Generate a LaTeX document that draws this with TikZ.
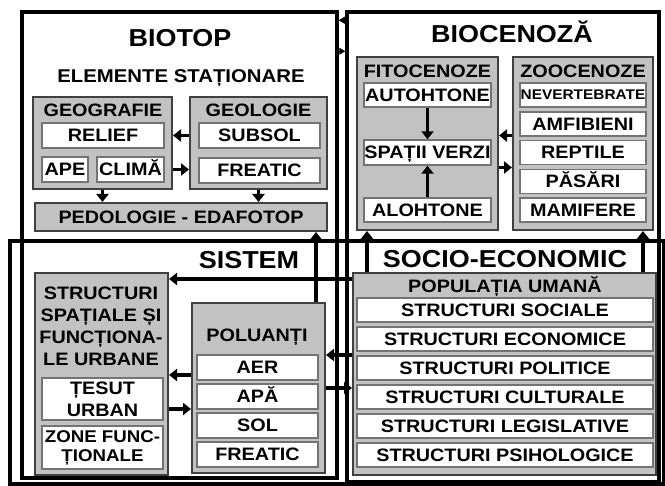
\documentclass[tikz,border=0pt]{standalone}
\usepackage{fontspec}
\setmainfont{Liberation Sans}[FakeStretch=1.1]
\usetikzlibrary{arrows.meta}
\newcommand\cellfont{\bfseries\fontsize{18}{22}\selectfont}

\begin{document}
\begin{tikzpicture}[x=1pt, y=-1pt,
  frame/.style={rectangle, draw=black, line width=3.5pt, inner sep=0pt},
  grp/.style={rectangle, draw=black!75, line width=2pt, fill=black!24, inner sep=0pt},
  lbl/.style={inner sep=0pt, font=\cellfont, align=center},
  hd/.style={lbl, text height=12.9pt, text depth=0pt},
  cell/.style={lbl, rectangle, draw=black!55, line width=1.4pt, fill=white},
  one/.style={cell, text height=12.9pt, text depth=0pt},
  ttl/.style={inner sep=0pt, font=\bfseries\fontsize{24.5}{29}\selectfont, text height=17.5pt, text depth=0pt},
  arr/.style={line width=3.6pt, -{Triangle[length=8pt,width=12pt]}},
  tip/.style={line width=1pt, -{Triangle[length=6pt,width=7pt]}}]

\useasboundingbox (0,0) rectangle (665,486);

\node(biotop) [frame, minimum width=315pt, minimum height=466pt] at (179.5,245) {};
\node(biocenoza) [frame, minimum width=312pt, minimum height=470pt] at (503,247) {};
\node(sistem) [frame, minimum width=654pt, minimum height=243pt] at (337,362.5) {};

\node(biotoptitle) [ttl] at (180,37.5) {BIOTOP};
\node(stationare) [hd, font=\bfseries\fontsize{18.5}{22}\selectfont] at (181,76.5) {ELEMENTE STAȚIONARE};
\node(biocenozatitle) [ttl] at (512,33.5) {BIOCENOZĂ};
\node(sistemtitle) [ttl] at (249,260) {SISTEM};
\node(sociotitle) [ttl] at (505,258.5) {SOCIO-ECONOMIC};

\node(geografie) [grp, minimum width=139pt, minimum height=92pt] at (102.5,143) {};
\node(geografietitle) [hd] at (103,110) {GEOGRAFIE};
\node(relief) [one, minimum width=122pt, minimum height=25pt] at (103,135.5) {RELIEF};
\node(ape) [one, minimum width=46pt, minimum height=25pt] at (65,169.5) {APE};
\node(clima) [one, minimum width=67pt, minimum height=25pt] at (130.5,169.5) {CLIMĂ};
\node(geologie) [grp, minimum width=137pt, minimum height=92pt] at (258.5,143) {};
\node(geologietitle) [hd] at (258.5,110) {GEOLOGIE};
\node(subsol) [one, minimum width=121pt, minimum height=25pt] at (259.5,135.5) {SUBSOL};
\node(freatic) [one, minimum width=121pt, minimum height=25pt] at (259.5,170.5) {FREATIC};
\node(pedologie) [grp, minimum width=292pt, minimum height=28pt, text height=12.9pt, text depth=0pt, font=\cellfont] at (181,217) {PEDOLOGIE - EDAFOTOP};

\node(fitocenoze) [grp, minimum width=141pt, minimum height=173pt] at (427.5,143.5) {};
\node(fitotitle) [hd] at (427.5,71.5) {FITOCENOZE};
\node(autohtone) [one, minimum width=127pt, minimum height=24pt] at (427.5,95) {AUTOHTONE};
\node(spatii) [one, minimum width=127pt, minimum height=25pt] at (427.5,152.5) {SPAȚII VERZI};
\node(alohtone) [one, minimum width=127pt, minimum height=24pt] at (427.5,210) {ALOHTONE};
\node(zoocenoze) [grp, minimum width=140pt, minimum height=173pt] at (583,143.5) {};
\node(zootitle) [hd] at (583,71.5) {ZOOCENOZE};
\node(nevertebrate) [one, minimum width=126pt, minimum height=24pt, font=\bfseries\fontsize{14}{17}\selectfont, text height=10pt] at (583,95) {NEVERTEBRATE};
\node(amfibieni) [one, minimum width=126pt, minimum height=24pt] at (583,124) {AMFIBIENI};
\node(reptile) [one, minimum width=126pt, minimum height=24pt] at (583,152.5) {REPTILE};
\node(pasari) [one, minimum width=126pt, minimum height=24pt] at (583,181.5) {PĂSĂRI};
\node(mamifere) [one, minimum width=126pt, minimum height=24pt] at (583,210) {MAMIFERE};

\node(structuri) [grp, minimum width=133pt, minimum height=202pt] at (101.5,374) {};
\node(structuritext) [lbl] at (101,326) {STRUCTURI\\SPAȚIALE ȘI\\FUNCȚIONA-\\LE URBANE};
\node(tesut) [cell, minimum width=121pt, minimum height=42pt] at (102.5,399) {ȚESUT\\URBAN};
\node(zone) [cell, minimum width=121pt, minimum height=43pt, font=\bfseries\fontsize{17}{19}\selectfont] at (102.5,447.5) {ZONE FUNC-\\ȚIONALE};
\node(poluanti) [grp, minimum width=133pt, minimum height=170pt] at (258.5,388) {};
\node(poluantititle) [hd] at (257,335) {POLUANȚI};
\node(aer) [one, minimum width=121pt, minimum height=25pt] at (257.5,367.5) {AER};
\node(apa) [one, minimum width=121pt, minimum height=25pt] at (257.5,396.5) {APĂ};
\node(sol) [one, minimum width=121pt, minimum height=25pt] at (257.5,425.5) {SOL};
\node(freatic2) [one, minimum width=121pt, minimum height=25pt] at (257.5,454.5) {FREATIC};

\node(populatia) [grp, minimum width=303pt, minimum height=202pt] at (504.5,374) {};
\node(populatiatitle) [hd] at (505,286.5) {POPULAȚIA UMANĂ};
\node(sociale) [one, minimum width=296pt, minimum height=24pt] at (505,310) {STRUCTURI SOCIALE};
\node(economice) [one, minimum width=296pt, minimum height=24pt] at (505,339) {STRUCTURI ECONOMICE};
\node(politice) [one, minimum width=296pt, minimum height=24pt] at (505,368) {STRUCTURI POLITICE};
\node(culturale) [one, minimum width=296pt, minimum height=24pt] at (505,397) {STRUCTURI CULTURALE};
\node(legislative) [one, minimum width=296pt, minimum height=24pt] at (505,426) {STRUCTURI LEGISLATIVE};
\node(psihologice) [one, minimum width=296pt, minimum height=24pt] at (505,455) {STRUCTURI PSIHOLOGICE};

\draw[arr] (geologie.west |- relief) -- (geografie.east |- relief);
\draw[arr] (geografie.east |- clima) -- (geologie.west |- clima);
\draw[arr] (geografie.south) -- (geografie.south |- pedologie.north);
\draw[arr] (geologie.south) -- (geologie.south |- pedologie.north);
\coordinate (polup) at ([xshift=-10pt]poluanti.north east);
\draw[arr] (polup) -- (polup |- pedologie.south);

\draw[arr] (autohtone) -- (spatii);
\draw[arr, line width=2.5pt] (alohtone) -- (spatii);
\coordinate (zf) at ([yshift=8pt]zoocenoze.west);
\draw[arr] (zf) -- (zf -| fitocenoze.east);
\coordinate (fz) at ([yshift=-24pt]fitocenoze.east);
\draw[arr] (fz) -- (fz -| zoocenoze.west);

\coordinate (pf) at ([xshift=15pt]populatia.north west);
\draw[arr] (pf) -- (pf |- fitocenoze.south);
\coordinate (pz) at ([xshift=-14pt]populatia.north east);
\draw[arr] (pz) -- (pz |- zoocenoze.south);

\coordinate (ps) at ([yshift=-7pt]populatia.north west);
\draw[arr] (ps) -- (ps -| structuri.east);
\coordinate (pp) at ([yshift=19pt]populatia.west);
\draw[arr] (pp) -- (pp -| poluanti.east);
\draw[arr] (poluanti.east) -- (poluanti.east -| populatia.west);
\coordinate (ls) at ([yshift=13pt]poluanti.west);
\draw[arr] (ls) -- (ls -| structuri.east);
\coordinate (sl) at ([yshift=-21pt]poluanti.west);
\draw[arr] (sl -| structuri.east) -- (sl);

\coordinate (bb) at ([yshift=-10pt]biocenoza.north west);
\draw[tip] (bb) -- (bb -| biotop.east);
\coordinate (bc) at ([yshift=-41pt]biocenoza.north west);
\draw[tip] (bc -| biotop.east) -- (bc);

\end{tikzpicture}
\end{document}
